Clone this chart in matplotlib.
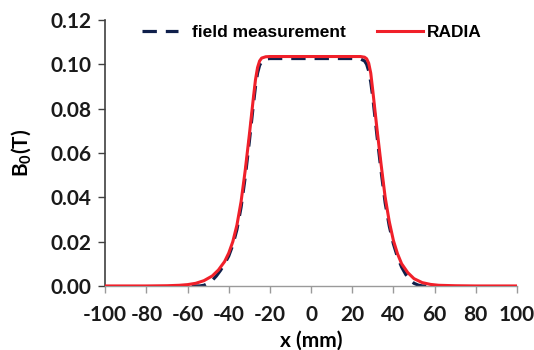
import matplotlib
matplotlib.use("Agg")
import matplotlib.pyplot as plt

# Data
x_radia = [-100, -90, -80, -70, -64, -60, -56, -52, -48, -45, -42, -40, -38, -36, -34, -32,
           -30, -28, -27, -26, -25, -24, -22, -20, -10, 0, 10, 20, 24, 26, 27, 28,
           29, 30, 32, 34, 36, 38, 40, 42, 44, 47, 50, 54, 58, 62, 70, 80, 90, 100]
b_radia = [0.0, 0.0, 0.0, 0.0001, 0.0003, 0.0006, 0.0012, 0.0024, 0.0045, 0.0072, 0.0110, 0.0148,
           0.0200, 0.0275, 0.0380, 0.0520, 0.0680, 0.0850, 0.0930, 0.0985, 0.1015, 0.1028, 0.1034,
           0.1035, 0.1035, 0.1035, 0.1035, 0.1035, 0.1035, 0.1032, 0.1025, 0.1005, 0.0960, 0.0880,
           0.0710, 0.0550, 0.0400, 0.0290, 0.0205, 0.0145, 0.0100, 0.0060, 0.0033, 0.0015, 0.0007,
           0.0003, 0.0001, 0.0, 0.0, 0.0]

x_meas = [-58, -54, -52, -50, -48, -46, -44, -42, -40, -38, -36, -34, -32, -30, -28, -27, -26,
          -25, -24, -22, -20, -10, 0, 10, 20, 24, 26, 27, 28, 29, 30, 32, 34, 36, 38, 40, 42,
          44, 46, 48, 50, 52, 54, 56]
b_meas = [0.0, 0.0, 0.0003, 0.0012, 0.0025, 0.0045, 0.0070, 0.0100, 0.0135, 0.0185, 0.0255, 0.0355,
          0.0490, 0.0650, 0.0820, 0.0900, 0.0960, 0.0995, 0.1012, 0.1024, 0.1026, 0.1026, 0.1026,
          0.1026, 0.1026, 0.1024, 0.1015, 0.1000, 0.0970, 0.0920, 0.0850, 0.0680, 0.0520, 0.0375,
          0.0270, 0.0190, 0.0130, 0.0085, 0.0052, 0.0028, 0.0012, 0.0004, 0.0, 0.0]

xticks = [-100, -80, -60, -40, -20, 0, 20, 40, 60, 80, 100]
yticks = [0.00, 0.02, 0.04, 0.06, 0.08, 0.10, 0.12]

W, H = 534, 350
fig = plt.figure(figsize=(W / 100, H / 100), dpi=100)
ax = fig.add_axes([0.197, 0.183, 0.771, 0.760])

l_meas, = ax.plot(x_meas, b_meas, color="#0f1f4b", lw=2.3, ls=(0, (4.5, 2.8)),
                  label="field measurement", zorder=2)
l_rad, = ax.plot(x_radia, b_radia, color="#f0202a", lw=2.2, label="RADIA", zorder=3)

ax.set_xlim(-100, 100)
ax.set_ylim(0, 0.12)
ax.set_xticks(xticks)
ax.set_yticks(yticks)
ax.set_xticklabels([str(v) for v in xticks])
ax.set_yticklabels([f"{v:.2f}" for v in yticks])

for lab in ax.get_xticklabels() + ax.get_yticklabels():
    lab.set_fontfamily("Lato")
    lab.set_fontweight("bold")
    lab.set_fontsize(15)
    lab.set_color("#1a1a1a")

ax.spines["top"].set_visible(False)
ax.spines["right"].set_visible(False)
ax.spines["left"].set_color("#404040")
ax.spines["left"].set_linewidth(1.2)
ax.spines["bottom"].set_color("#9a9a9a")
ax.spines["bottom"].set_linewidth(1.0)
ax.tick_params(axis="y", direction="out", length=5, color="#404040", width=1.0, pad=5)
ax.tick_params(axis="x", direction="out", length=5, color="#9a9a9a", width=1.0, pad=9)

ax.set_xlabel("x (mm)", fontfamily="Lato", fontweight="bold", fontsize=15, labelpad=4)
ax.set_ylabel("B$_\\mathregular{0}$(T)", fontfamily="Lato", fontweight="bold", fontsize=15, labelpad=12)

prop = dict(family="Liberation Sans", weight="bold", size=12.5)
leg1 = fig.legend([l_meas], ["field measurement"], loc="center left",
                  bbox_to_anchor=(142 / W, 1 - 32 / H), frameon=False, prop=prop,
                  borderpad=0, borderaxespad=0, handlelength=2.1, handletextpad=0.8)
leg2 = fig.legend([l_rad], ["RADIA"], loc="center left",
                  bbox_to_anchor=(377 / W, 1 - 32 / H), frameon=False, prop=prop,
                  borderpad=0, borderaxespad=0, handlelength=2.65, handletextpad=0.25)

fig.savefig("out.png", dpi=100)
